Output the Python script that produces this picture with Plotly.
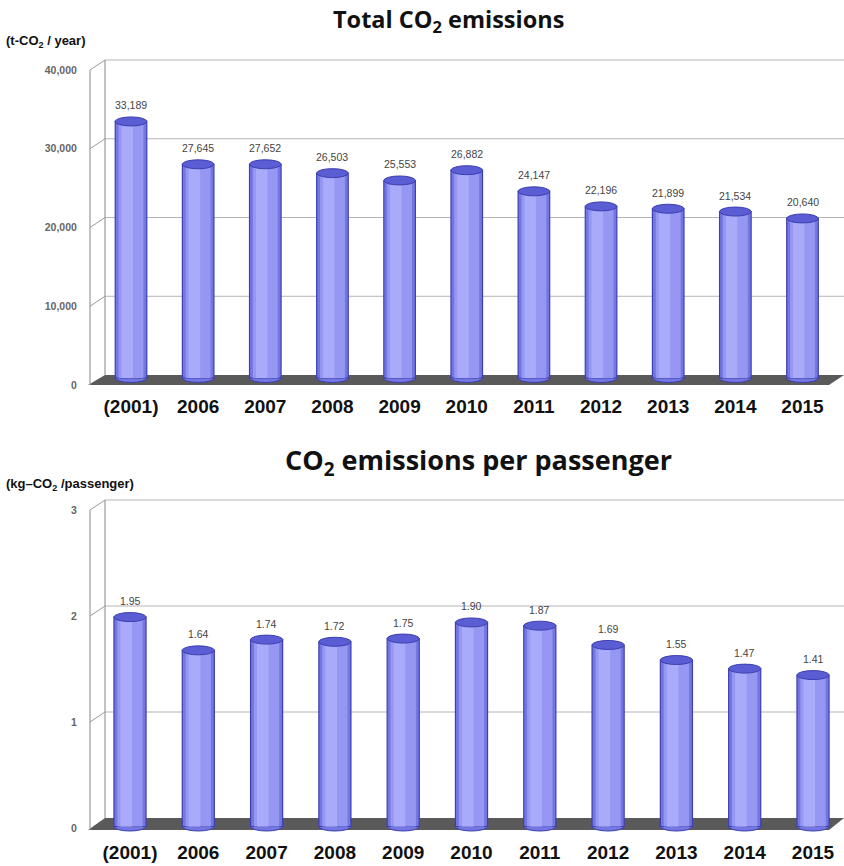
import plotly.graph_objects as go

# ---- data -------------------------------------------------------------
years = ["(2001)", "2006", "2007", "2008", "2009", "2010",
         "2011", "2012", "2013", "2014", "2015"]
total_co2 = [33189, 27645, 27652, 26503, 25553, 26882,
             24147, 22196, 21899, 21534, 20640]
co2_per_passenger = [1.95, 1.64, 1.74, 1.72, 1.75, 1.90,
                     1.87, 1.69, 1.55, 1.47, 1.41]
total_ticks = [0, 10000, 20000, 30000, 40000]
per_pass_ticks = [0, 1, 2, 3]

# ---- page geometry (pixels) -------------------------------------------
W, H = 844, 866


def px(p):
    return p / W


def py(p):
    return 1 - p / H


panels = [
    dict(values=total_co2, ticks=total_ticks,
         ticktext=[f"{t:,}" for t in total_ticks],
         labels=[f"{v:,}" for v in total_co2],
         dom_top=56, dom_bot=392,
         zero=378, ppu=7.73 / 1000,          # bars (front plane)
         bzero=375, bppu=7.875 / 1000,       # back wall
         floor_front=385, wall_dy=10, dx=15,
         left=90, right=844, c0=131, step=67.15,
         title="Total CO<sub>2</sub> emissions", title_x=448, title_y=20,
         title_size=23.5,
         unit="(t-CO<sub>2</sub> / year)", unit_y=42),
    dict(values=co2_per_passenger, ticks=per_pass_ticks,
         ticktext=[str(t) for t in per_pass_ticks],
         labels=[f"{v:.2f}" for v in co2_per_passenger],
         dom_top=496, dom_bot=838,
         zero=826.5, ppu=107.4,
         bzero=818, bppu=106.0,
         floor_front=830, wall_dy=10, dx=15,
         left=90, right=844, c0=130, step=68.3,
         title="CO<sub>2</sub> emissions per passenger", title_x=479, title_y=461,
         title_size=27,
         unit="(kg\u2013CO<sub>2</sub> /passenger)", unit_y=484),
]

BAR_DARK = "#7477e2"
BAR_MID = "#9597f3"
BAR_LIGHT = "#a9abfa"
BAR_EDGE = "#3c3fae"
TOP_FILL = "#5a5dd3"
GRID = "#b4b4b4"
WALL = "#9a9a9a"
FLOOR = "#5a5a5a"

NARROW = "Liberation Sans Narrow, Arial Narrow, Liberation Sans, sans-serif"
SANS = "Liberation Sans, Arial, sans-serif"

fig = go.Figure()
layout = dict(
    width=W, height=H, margin=dict(l=0, r=0, t=0, b=0, autoexpand=False),
    paper_bgcolor="white", plot_bgcolor="rgba(0,0,0,0)",
    barmode="overlay", showlegend=False,
)
shapes, annotations = [], []

for k, p in enumerate(panels):
    xa = "x" if k == 0 else f"x{2 * k + 1}"
    ya = "y" if k == 0 else f"y{2 * k + 1}"
    yb = f"y{2 * k + 2}"
    xa_key = "xaxis" if k == 0 else f"xaxis{2 * k + 1}"
    ya_key = "yaxis" if k == 0 else f"yaxis{2 * k + 1}"
    yb_key = f"yaxis{2 * k + 2}"

    ppu, bppu = p["ppu"], p["bppu"]
    yr = [(p["zero"] - p["dom_bot"]) / ppu, (p["zero"] - p["dom_top"]) / ppu]
    yr_back = [(p["bzero"] - p["dom_bot"]) / bppu,
               (p["bzero"] - p["dom_top"]) / bppu]
    xr = [(p["left"] - p["c0"]) / p["step"], (p["right"] - p["c0"]) / p["step"]]
    xdom = [px(p["left"]), px(p["right"])]
    ydom = [py(p["dom_bot"]), py(p["dom_top"])]

    # value labels sit on the front edge of the left wall: back-wall level + wall_dy
    front_tick_vals = [(p["zero"] - (p["bzero"] - t * bppu + p["wall_dy"])) / ppu
                       for t in p["ticks"]]

    layout[xa_key] = dict(
        domain=xdom, range=xr, anchor=ya, type="category", automargin=False,
        showgrid=False, showline=False, zeroline=False, ticks="",
        tickfont=dict(family=NARROW, size=19, color="#111", weight="bold"),
        ticklabelstandoff=1,
    )
    layout[ya_key] = dict(
        domain=ydom, range=yr, anchor=xa, automargin=False,
        showgrid=False, zeroline=False, showline=False,
        tickvals=front_tick_vals, ticktext=p["ticktext"],
        ticks="outside", ticklen=10, tickcolor="rgba(0,0,0,0)",
        tickfont=dict(family=SANS, size=10.5, color="#666", weight="bold"),
    )
    layout[yb_key] = dict(
        domain=ydom, range=yr_back, overlaying=ya, anchor=xa, automargin=False,
        showgrid=False, zeroline=False, showline=False, showticklabels=False,
    )

    wall_shift = p["wall_dy"] / bppu        # front wall -> back wall, in back units
    floor_shift = (p["floor_front"] - p["bzero"]) / bppu
    x_back = px(p["left"] + p["dx"])
    x_front = px(p["left"])
    top_tick = p["ticks"][-1]

    # floor slab
    shapes.append(dict(
        type="path", xref="paper", yref=yb, layer="below",
        path=(f"M {px(p['left'] - 2)} {-floor_shift} "
              f"L {x_back} 0 L {px(p['right'])} 0 "
              f"L {px(p['right'] - p['dx'])} {-floor_shift} Z"),
        fillcolor=FLOOR, line=dict(width=0),
    ))
    # back-wall gridlines and left-wall connectors
    for t in p["ticks"]:
        if t > 0:
            shapes.append(dict(type="line", xref="paper", yref=yb, layer="below",
                               x0=x_back, x1=px(p["right"]), y0=t, y1=t,
                               line=dict(color=GRID, width=1)))
            shapes.append(dict(type="line", xref="paper", yref=yb, layer="below",
                               x0=x_front, x1=x_back, y0=t - wall_shift, y1=t,
                               line=dict(color=WALL, width=1)))
    shapes.append(dict(type="line", xref="paper", yref=yb, layer="below",
                       x0=x_front, x1=x_front, y0=-floor_shift,
                       y1=top_tick - wall_shift, line=dict(color=WALL, width=1.2)))
    shapes.append(dict(type="line", xref="paper", yref=yb, layer="below",
                       x0=x_back, x1=x_back, y0=0, y1=top_tick,
                       line=dict(color=WALL, width=1.2)))

    # cylinders: shaded body built from overlaid bars
    vals = p["values"]
    fig.add_trace(go.Bar(x=years, y=vals, width=0.47, xaxis=xa, yaxis=ya,
                         marker=dict(color=BAR_DARK,
                                     line=dict(color=BAR_EDGE, width=1.2)),
                         hoverinfo="x+y"))
    fig.add_trace(go.Bar(x=years, y=vals, width=0.37, xaxis=xa, yaxis=ya,
                         marker=dict(color=BAR_MID, line=dict(width=0)),
                         hoverinfo="skip"))
    fig.add_trace(go.Bar(x=years, y=vals, width=0.17, offset=-0.14,
                         xaxis=xa, yaxis=ya,
                         marker=dict(color=BAR_LIGHT, line=dict(width=0)),
                         hoverinfo="skip"))

    e = 4.5 / ppu   # half height of the elliptical caps
    for i, v in enumerate(vals):
        # rounded base on the floor
        shapes.append(dict(type="circle", xref=xa, yref=ya, layer="below",
                           x0=i - 0.235, x1=i + 0.235, y0=-e, y1=e,
                           fillcolor=BAR_DARK,
                           line=dict(color=BAR_EDGE, width=1)))
        # elliptical top cap
        shapes.append(dict(type="circle", xref=xa, yref=ya, layer="above",
                           x0=i - 0.235, x1=i + 0.235, y0=v - e, y1=v + e,
                           fillcolor=TOP_FILL,
                           line=dict(color=BAR_EDGE, width=1)))
        annotations.append(dict(xref=xa, yref=ya, x=i, y=v, yshift=16,
                                text=p["labels"][i], showarrow=False,
                                font=dict(family=SANS, size=10.5, color="#444")))

    annotations.append(dict(xref="paper", yref="paper", x=px(p["title_x"]),
                            y=py(p["title_y"]), xanchor="center", yanchor="middle",
                            text=p["title"], showarrow=False,
                            font=dict(family="Open Sans, sans-serif",
                                      size=p["title_size"],
                                      color="#111", weight="bold")))
    annotations.append(dict(xref="paper", yref="paper", x=px(4),
                            y=py(p["unit_y"]), xanchor="left", yanchor="middle",
                            text=p["unit"], showarrow=False,
                            font=dict(family=SANS, size=13, color="#111",
                                      weight="bold")))

layout["shapes"] = shapes
layout["annotations"] = annotations
fig.update_layout(**layout)
fig.write_html("out.html")
